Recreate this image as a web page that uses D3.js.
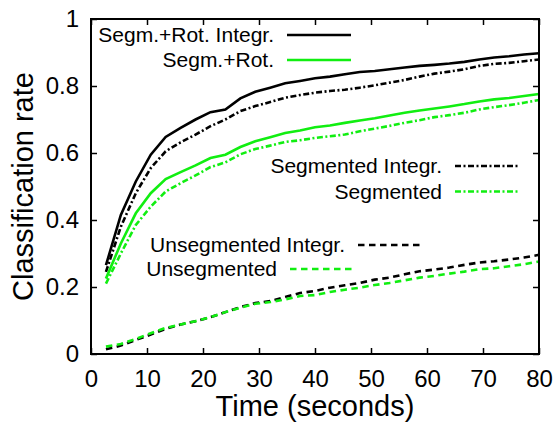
<!DOCTYPE html>
<html>
<head>
<meta charset="utf-8">
<script src="https://cdn.jsdelivr.net/npm/d3@7"></script>
<style>
  body { margin: 0; background: #fff; }
  text { font-family: "Liberation Sans", Arial, sans-serif; fill: #000; }
</style>
</head>
<body>
<div id="chart-area"></div>
<script>
// time (seconds): 30 samples, every 8/3 s
const times = [2.67, 5.33, 8, 10.67, 13.33, 16, 18.67, 21.33, 24, 26.67,
  29.33, 32, 34.67, 37.33, 40, 42.67, 45.33, 48, 50.67, 53.33,
  56, 58.67, 61.33, 64, 66.67, 69.33, 72, 74.67, 77.33, 80]

const segRotIntegr = [0.265, 0.415, 0.515, 0.595, 0.648, 0.675, 0.700, 0.722, 0.730, 0.763,
  0.783, 0.795, 0.808, 0.815, 0.823, 0.828, 0.835, 0.842, 0.845, 0.850,
  0.855, 0.860, 0.863, 0.867, 0.872, 0.879, 0.885, 0.889, 0.894, 0.898]
const segRot = [0.225, 0.330, 0.420, 0.480, 0.522, 0.543, 0.563, 0.585, 0.595, 0.618,
  0.635, 0.647, 0.660, 0.667, 0.677, 0.682, 0.690, 0.697, 0.704, 0.712,
  0.720, 0.727, 0.733, 0.739, 0.746, 0.754, 0.760, 0.764, 0.770, 0.776]
const segIntegr = [0.245, 0.380, 0.480, 0.555, 0.605, 0.632, 0.655, 0.680, 0.700, 0.725,
  0.740, 0.752, 0.765, 0.773, 0.780, 0.785, 0.789, 0.795, 0.802, 0.810,
  0.818, 0.828, 0.837, 0.843, 0.850, 0.860, 0.866, 0.869, 0.874, 0.879]
const segmented = [0.210, 0.300, 0.385, 0.440, 0.485, 0.510, 0.533, 0.558, 0.572, 0.596,
  0.612, 0.622, 0.633, 0.638, 0.645, 0.650, 0.655, 0.665, 0.673, 0.681,
  0.690, 0.698, 0.707, 0.713, 0.720, 0.730, 0.737, 0.743, 0.750, 0.758]
const unsegIntegr = [0.014, 0.025, 0.042, 0.058, 0.075, 0.088, 0.098, 0.110, 0.125, 0.140,
  0.152, 0.158, 0.170, 0.182, 0.188, 0.198, 0.205, 0.212, 0.222, 0.228,
  0.238, 0.247, 0.252, 0.258, 0.266, 0.273, 0.277, 0.282, 0.288, 0.296]
const unsegmented = [0.022, 0.030, 0.045, 0.062, 0.078, 0.088, 0.098, 0.110, 0.125, 0.138,
  0.150, 0.155, 0.163, 0.173, 0.176, 0.185, 0.192, 0.198, 0.206, 0.212,
  0.220, 0.228, 0.233, 0.240, 0.246, 0.253, 0.256, 0.262, 0.268, 0.276]

const xTicks = [0, 10, 20, 30, 40, 50, 60, 70, 80]
const yTicks = [0, 0.2, 0.4, 0.6, 0.8, 1]

const BLACK = "#000000"
const GREEN = "#11ee11"
const SOLID = null
const DASHDOT = "6,2.5,2,2.5"
const DASHED = "6.5,4.5"

// draw order: unsegmented first so the segmented curves sit on top
const series = [
  { name: "Unsegmented Integr.", values: unsegIntegr, color: BLACK, dash: DASHED, lx: 358, ly: 245 },
  { name: "Unsegmented", values: unsegmented, color: GREEN, dash: DASHED, lx: 290, ly: 269 },
  { name: "Segmented Integr.", values: segIntegr, color: BLACK, dash: DASHDOT, lx: 455, ly: 166 },
  { name: "Segmented", values: segmented, color: GREEN, dash: DASHDOT, lx: 455, ly: 191.5 },
  { name: "Segm.+Rot. Integr.", values: segRotIntegr, color: BLACK, dash: SOLID, lx: 287, ly: 35 },
  { name: "Segm.+Rot.", values: segRot, color: GREEN, dash: SOLID, lx: 287, ly: 60 }
]

const MARGIN = { LEFT: 91, RIGHT: 19, TOP: 19, BOTTOM: 69 }
const WIDTH = 558 - MARGIN.LEFT - MARGIN.RIGHT
const HEIGHT = 423 - MARGIN.TOP - MARGIN.BOTTOM

const svg = d3.select("#chart-area").append("svg")
  .attr("width", 558)
  .attr("height", 423)

const g = svg.append("g")
  .attr("transform", `translate(${MARGIN.LEFT}, ${MARGIN.TOP})`)

const xScale = d3.scaleLinear().domain([0, 80]).range([0, WIDTH])
const yScale = d3.scaleLinear().domain([0, 1]).range([HEIGHT, 0])

// gnuplot style: ticks pointing in, mirrored on top and right
const TICK = 6
const tickFmt = d => d3.format("~g")(d)

g.append("g")
  .attr("class", "x axis")
  .attr("transform", `translate(0, ${HEIGHT})`)
  .call(d3.axisBottom(xScale).tickValues(xTicks).tickFormat(tickFmt).tickSizeInner(-TICK).tickSizeOuter(0).tickPadding(16))
g.append("g")
  .attr("class", "x axis top")
  .call(d3.axisTop(xScale).tickValues(xTicks).tickFormat("").tickSizeInner(-TICK).tickSizeOuter(0))
g.append("g")
  .attr("class", "y axis")
  .call(d3.axisLeft(yScale).tickValues(yTicks).tickFormat(tickFmt).tickSizeInner(-TICK).tickSizeOuter(0).tickPadding(12))
g.append("g")
  .attr("class", "y axis right")
  .attr("transform", `translate(${WIDTH}, 0)`)
  .call(d3.axisRight(yScale).tickValues(yTicks).tickFormat("").tickSizeInner(-TICK).tickSizeOuter(0))

g.selectAll(".axis .domain").remove()
g.selectAll(".axis line").attr("stroke", "#000").attr("stroke-width", 1.5)
g.selectAll(".axis text")
  .attr("font-size", "24px")
  .attr("font-family", "Liberation Sans, Arial, sans-serif")
  .attr("fill", "#000")

const line = d3.line()
  .x((d, i) => xScale(times[i]))
  .y(d => yScale(d))

g.selectAll(".series")
  .data(series)
  .enter().append("path")
  .attr("class", "series")
  .attr("d", d => line(d.values))
  .attr("fill", "none")
  .attr("stroke", d => d.color)
  .attr("stroke-width", 2.6)
  .attr("stroke-dasharray", d => d.dash)

// legend: text right aligned, sample line to its right
const legend = svg.selectAll(".legend")
  .data(series)
  .enter().append("g")
  .attr("class", "legend")

legend.append("text")
  .attr("x", d => d.lx - 13)
  .attr("y", d => d.ly + 7)
  .attr("text-anchor", "end")
  .attr("font-size", "21px")
  .text(d => d.name)

legend.append("line")
  .attr("x1", d => d.lx)
  .attr("x2", d => d.lx + 64)
  .attr("y1", d => d.ly)
  .attr("y2", d => d.ly)
  .attr("stroke", d => d.color)
  .attr("stroke-width", 2.6)
  .attr("stroke-dasharray", d => d.dash)

// frame
g.append("rect")
  .attr("width", WIDTH)
  .attr("height", HEIGHT)
  .attr("fill", "none")
  .attr("stroke", "#000")
  .attr("stroke-width", 2)

g.append("text")
  .attr("class", "x axis-label")
  .attr("x", WIDTH / 2)
  .attr("y", HEIGHT + 62)
  .attr("font-size", "29px")
  .attr("text-anchor", "middle")
  .text("Time (seconds)")

g.append("text")
  .attr("class", "y axis-label")
  .attr("x", -(HEIGHT / 2))
  .attr("y", -58)
  .attr("font-size", "29px")
  .attr("text-anchor", "middle")
  .attr("transform", "rotate(-90)")
  .text("Classification rate")
</script>
</body>
</html>
